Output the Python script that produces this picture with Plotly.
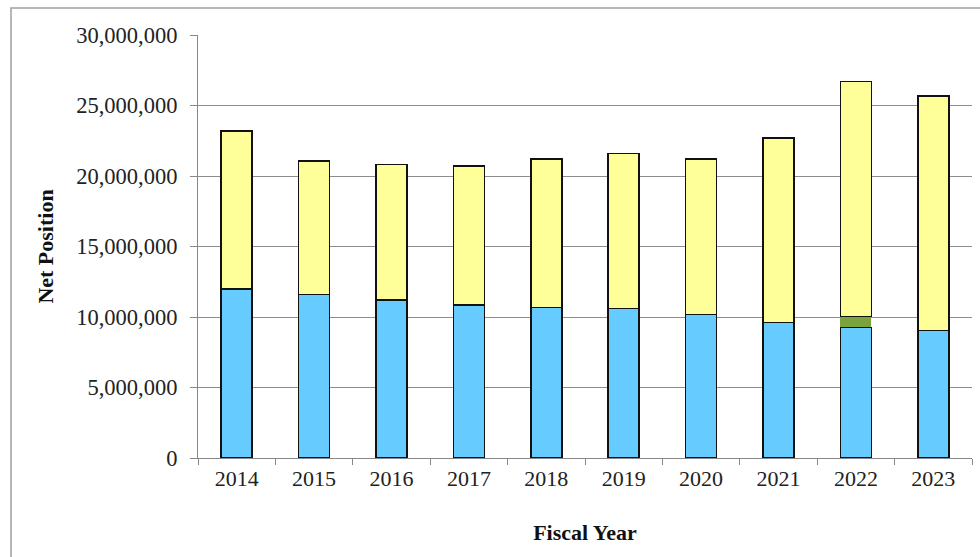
import plotly.graph_objects as go

years = ["2014", "2015", "2016", "2017", "2018", "2019", "2020", "2021", "2022", "2023"]
blue_vals = [12000000, 11610000, 11200000, 10850000, 10690000, 10600000, 10190000, 9600000, 9270000, 9030000]
green_vals = [0, 0, 0, 0, 0, 0, 0, 0, 750000, 0]
yellow_vals = [11190000, 9450000, 9600000, 9860000, 10510000, 11000000, 11010000, 13100000, 16690000, 16640000]
y_ticks = [0, 5000000, 10000000, 15000000, 20000000, 25000000, 30000000]
y_tick_text = ["0", "5,000,000", "10,000,000", "15,000,000", "20,000,000", "25,000,000", "30,000,000"]

FONT = "Liberation Serif"

fig = go.Figure()
fig.add_trace(go.Bar(x=years, y=blue_vals, marker=dict(color="#66CCFF", line=dict(color="#111111", width=1.5))))
fig.add_trace(go.Bar(x=years, y=green_vals, marker=dict(color="#7BA33B", line=dict(width=0))))
fig.add_trace(go.Bar(x=years, y=yellow_vals, marker=dict(color="#FFFF99", line=dict(color="#111111", width=1.5))))

fig.update_layout(
    barmode="stack",
    bargap=0.6,
    width=980,
    height=557,
    margin=dict(l=198, r=8, t=35, b=99),
    paper_bgcolor="white",
    plot_bgcolor="white",
    showlegend=False,
    font=dict(family=FONT, size=22, color="#222222"),
    shapes=[dict(type="rect", xref="paper", yref="paper", x0=-0.2416, x1=1.2, y0=-0.4, y1=1.0638,
                 line=dict(color="#A0A0A0", width=1.5), fillcolor="rgba(0,0,0,0)", layer="below")],
)
fig.update_xaxes(
    type="category",
    automargin=False,
    showline=True, linecolor="#888888", linewidth=1.2,
    ticks="outside", tickson="boundaries", ticklen=6, tickcolor="#888888",
    showgrid=False,
    tickfont=dict(family=FONT, size=22, color="#222222"),
    title=dict(text="<b>Fiscal Year</b>", font=dict(family=FONT, size=22, color="#111111"), standoff=35),
)
fig.update_yaxes(
    range=[0, 30000000],
    automargin=False,
    tickvals=y_ticks, ticktext=y_tick_text,
    showline=True, linecolor="#888888", linewidth=1.2,
    ticks="outside", ticklen=7, tickcolor="#888888",
    showgrid=True, gridcolor="#8C8C8C", gridwidth=1,
    zeroline=False,
    ticklabelstandoff=8,
    tickfont=dict(family=FONT, size=22.5, color="#222222"),
    title=dict(text="<b>Net Position</b>", font=dict(family=FONT, size=22, color="#111111"), standoff=16),
)

fig.write_html("out.html", config={"displayModeBar": False},
               post_script="document.body.style.margin='0';document.body.style.padding='0';")
